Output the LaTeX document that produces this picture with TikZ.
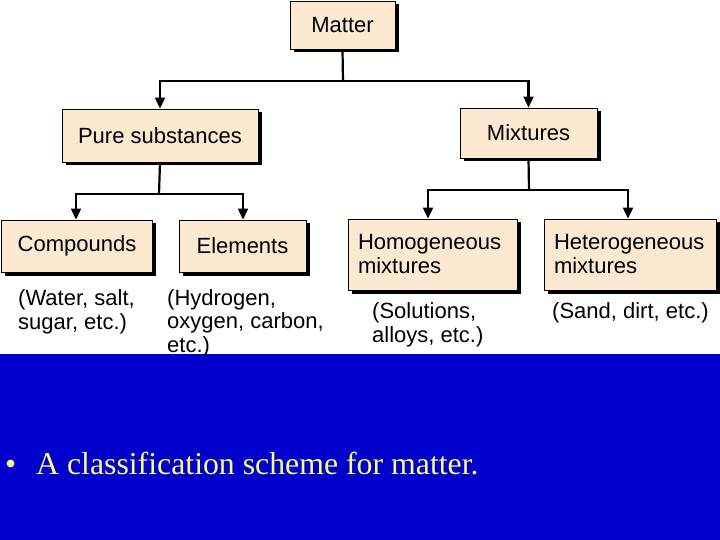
\documentclass[tikz,border=0pt]{standalone}
\usepackage{fontspec}
\setmainfont{Liberation Sans}
\newfontfamily\serifont{Liberation Serif}
\usetikzlibrary{arrows.meta,shadows}
\definecolor{peach}{RGB}{252,233,210}
\definecolor{slideblue}{RGB}{0,0,204}
\definecolor{bulletyellow}{RGB}{250,250,130}
\begin{document}
\begin{tikzpicture}[x=1pt,y=-1pt,
  box/.style={draw=black, line width=0.9pt, fill=peach, inner sep=0pt,
    font=\fontsize{22}{24}\selectfont,
    drop shadow={shadow xshift=3.5pt, shadow yshift=-3.5pt, fill=black, opacity=1}},
  leftbox/.style={box, align=left, text width=#1, inner xsep=10pt},
  note/.style={anchor=base west, align=left, inner sep=0pt,
    font=\fontsize{22}{23.5}\selectfont},
  conn/.style={line width=2.2pt},
  arr/.style={line width=2.2pt, -{Triangle[length=11pt,width=10pt]}}]
\useasboundingbox (0,0) rectangle (720,540);
\fill[white] (0,0) rectangle (720,354);
\fill[slideblue] (0,354) rectangle (720,540);

\node[box, minimum width=105pt, minimum height=48pt] (matter) at (342.5,25) {Matter};
\node[box, minimum width=196pt, minimum height=53pt] (pure) at (160,135.5) {Pure substances};
\node[box, minimum width=137pt, minimum height=50pt] (mix) at (528.5,133) {Mixtures};
\node[box, minimum width=151pt, minimum height=52pt] (comp) at (77,246) {Compounds};
\node[box, minimum width=127pt, minimum height=52pt] (elem) at (242.5,246) {Elements};
\node[leftbox=149pt, minimum height=71pt] (homo) at (432.5,254.5) {Homogeneous\\mixtures};
\node[leftbox=152pt, minimum height=71pt] (hetero) at (630,254.5) {Heterogeneous\\mixtures};

\coordinate (j1) at (343,81);
\coordinate (j2) at (159,194);
\coordinate (j3) at (529,190);
\draw[conn] (matter.south) -- (j1);
\draw[arr] (j1) -| (pure.north);
\draw[arr] (j1) -| (mix.north);
\draw[conn] (pure.south) -- (j2);
\draw[arr] (j2) -| ([xshift=-1pt]comp.north);
\draw[arr] (j2) -| ([xshift=0.5pt]elem.north);
\draw[conn] (mix.south) -- (j3);
\draw[arr] (j3) -| ([xshift=-4.5pt]homo.north);
\draw[arr] (j3) -| ([xshift=-2pt]hetero.north);

\node[note] (n1) at (18,329) {(Water, salt,\\sugar, etc.)};
\node[note] (n2) at (167,352) {(Hydrogen,\\oxygen, carbon,\\etc.)};
\node[note] (n3) at (372,342) {(Solutions,\\alloys, etc.)};
\node[note] (n4) at (552,318) {(Sand, dirt, etc.)};

\node[anchor=base west, inner sep=0pt, text=bulletyellow,
  font=\serifont\fontsize{31.8}{36}\selectfont] (cap) at (5,474)
  {\makebox[31pt][l]{•}A classification scheme for matter.};
\end{tikzpicture}
\end{document}
